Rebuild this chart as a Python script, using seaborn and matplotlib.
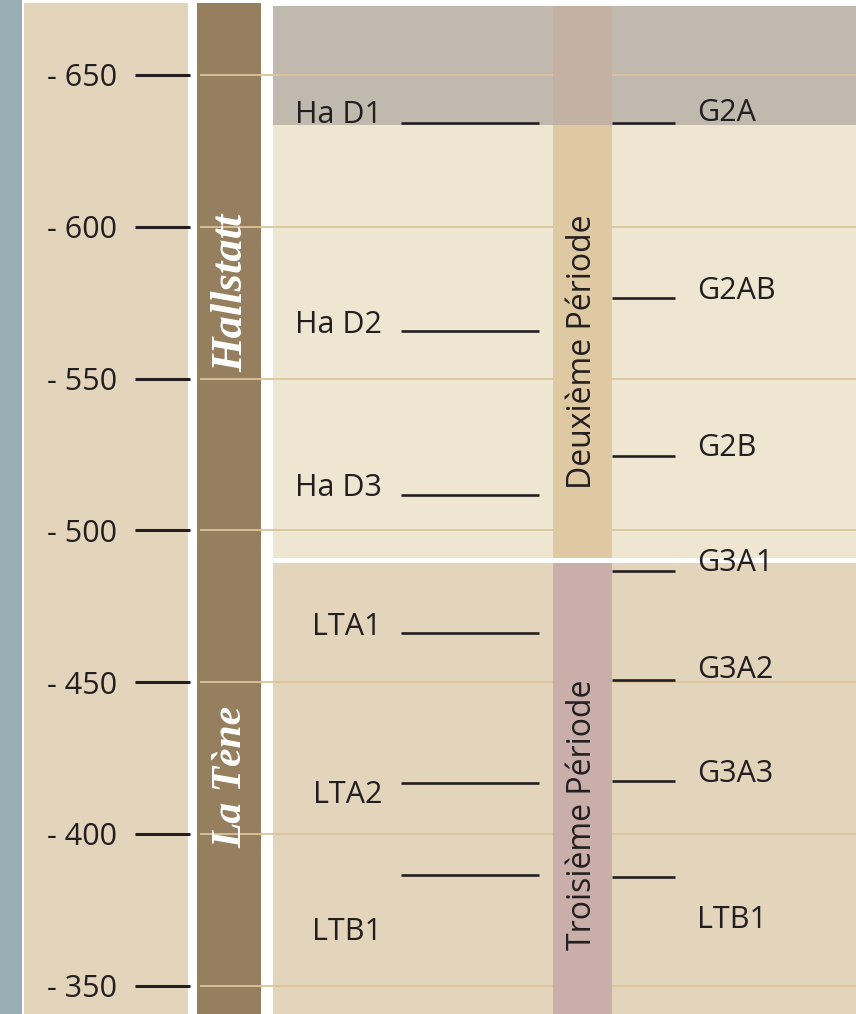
import matplotlib
matplotlib.use("Agg")
import matplotlib.pyplot as plt
from matplotlib.patches import Rectangle
import seaborn as sns

# ---------------- data ----------------
tick_years = [-650, -600, -550, -500, -450, -400, -350]
tick_labels = ["- 650", "- 600", "- 550", "- 500", "- 450", "- 400", "- 350"]

left_phases = ["Ha D1", "Ha D2", "Ha D3", "LTA1", "LTA2", "LTB1"]
left_label_years = [-636.8, -567.7, -514.0, -468.2, -412.9, -367.7]
left_boundary_years = [-634.2, -565.7, -511.7, -466.2, -416.8, -386.5]

right_phases = ["G2A", "G2AB", "G2B", "G3A1", "G3A2", "G3A3", "LTB1"]
right_label_years = [-637.5, -578.8, -527.1, -489.3, -454.0, -419.8, -371.7]
right_boundary_years = [-634.2, -576.5, -524.5, -486.6, -450.7, -417.5, -385.8]

cultures = ["Hallstatt", "La Tène"]
culture_label_years = [-578.2, -418.8]
culture_font_sizes = [32, 30]

periods = ["Deuxième Période", "Troisième Période"]
period_label_years = [-558.8, -406.3]
period_start = [-672.7, -489.3]
period_end = [-490.9, -340.7]

early_band_end = -633.5  # grey band (Ha D1 / G2A)

# ---------------- style ----------------
sns.set_theme(style="white")
plt.rcParams["font.family"] = ["Open Sans", "DejaVu Sans"]

INK = "#231f20"
fig = plt.figure(figsize=(8.56, 10.14), dpi=100, facecolor="white")
ax = fig.add_axes([0, 0, 1, 1])
ax.set_facecolor("white")
ax.set_xlim(0, 856)
y_top, y_bot = -674.7, -340.7
ax.set_ylim(y_bot, y_top)

def rect(x0, x1, ya, yb, color, z=0.5):
    ax.add_patch(Rectangle((x0, min(ya, yb)), x1 - x0, abs(yb - ya),
                           facecolor=color, edgecolor="none", zorder=z))

# left strip and columns
rect(0, 22, y_top, y_bot, "#99adb5")
rect(24, 188, -673.7, y_bot, "#e2d5bb")
rect(197, 261, -673.7, y_bot, "#967f5f")

# main blocks
rect(273, 856, period_start[0], period_end[0], "#efe6d2")
rect(273, 856, period_start[0], early_band_end, "#c1b9ae", z=0.6)
rect(273, 856, period_start[1], period_end[1], "#e2d5bb")

# gridlines
ax.hlines(tick_years, 200, 856, colors="#dcc49c", lw=1.3, zorder=0.8)

# period columns
rect(553, 612, period_start[0], period_end[0], "#dfc9a2", z=1.0)
rect(553, 612, period_start[0], early_band_end, "#c5b0a4", z=1.1)
rect(553, 612, period_start[1], period_end[1], "#c9aeaa", z=1.0)

# phase boundary lines
ax.hlines(left_boundary_years, 401, 539, colors=INK, lw=1.9, zorder=3)
ax.hlines(right_boundary_years, 612, 675, colors=INK, lw=1.9, zorder=3)

# phase labels
for name, yv in zip(left_phases, left_label_years):
    ax.text(382, yv, name, ha="right", va="center", fontsize=22, color=INK, zorder=4)
for name, yv in zip(right_phases, right_label_years):
    ax.text(697, yv, name, ha="left", va="center", fontsize=22, color=INK, zorder=4)

# culture labels
for name, yv, fs in zip(cultures, culture_label_years, culture_font_sizes):
    ax.text(231, yv, name, rotation=90, ha="center", va="center", color="white",
            fontsize=fs, family="Liberation Serif", weight="bold", style="italic", zorder=4)

# period labels
for name, yv in zip(periods, period_label_years):
    ax.text(583, yv, name, rotation=90, ha="center", va="center", color=INK,
            fontsize=23, zorder=4)

# axis ticks (year scale)
for s in ax.spines.values():
    s.set_visible(False)
ax.spines["left"].set_position(("data", 190))
ax.set_xticks([])
ax.set_yticks(tick_years)
ax.set_yticklabels(tick_labels)
ax.tick_params(axis="y", direction="out", length=39.6, width=2.2, color=INK,
               pad=13, labelsize=22, labelcolor=INK, left=True)
ax.yaxis.set_zorder(3)

fig.savefig("out.png", dpi=100, facecolor="white")
